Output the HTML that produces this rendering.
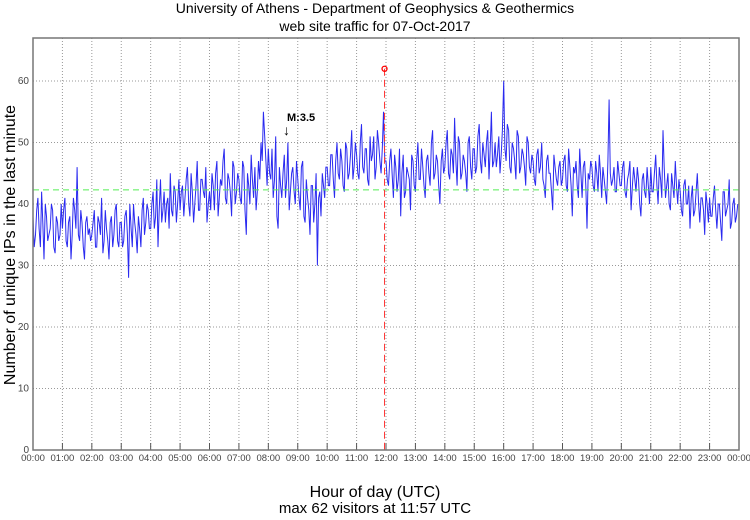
<!DOCTYPE html>
<html><head><meta charset="utf-8"><style>
body{margin:0;background:#fff;}
svg text{font-family:"Liberation Sans",sans-serif;}
</style></head><body>
<svg id="chart" width="750" height="515" xmlns="http://www.w3.org/2000/svg">
<text x="375" y="13" text-anchor="middle" font-size="14">University of Athens - Department of Geophysics &amp; Geothermics</text>
<text x="375" y="31" text-anchor="middle" font-size="14">web site traffic for 07-Oct-2017</text>
<text transform="translate(15,245) rotate(-90)" text-anchor="middle" font-size="16">Number of unique IPs in the last minute</text>
<text x="375" y="497" text-anchor="middle" font-size="16">Hour of day (UTC)</text>
<text x="375" y="513" text-anchor="middle" font-size="15">max 62 visitors at 11:57 UTC</text>
<g id="grid"></g><g id="series"></g><g id="overlay"></g>
<rect x="33" y="38" width="706" height="412" fill="none" stroke="#777" stroke-width="1.5"/>
<text x="287" y="121" font-size="11" font-weight="bold">M:3.5</text>
<text x="283" y="135" font-size="14">↓</text>
</svg>
<script>
const yTicks=[0,10,20,30,40,50,60];
const xTickLabels=["00:00","01:00","02:00","03:00","04:00","05:00","06:00","07:00","08:00","09:00","10:00","11:00","12:00","13:00","14:00","15:00","16:00","17:00","18:00","19:00","20:00","21:00","22:00","23:00","00:00"];
const visitors=[
38,35,41,33,37,40,34,36,39,32,37,35,
36,41,33,38,35,39,46,34,37,31,38,36,
35,39,33,37,41,34,36,31,38,35,40,33,
37,34,39,28,36,40,35,38,33,41,37,39,
36,42,38,33,44,39,37,41,45,38,42,40,
39,43,41,46,38,42,40,47,39,44,41,37,
42,45,39,47,41,43,49,40,44,38,46,42,
44,40,46,35,43,48,41,39,47,50,55,47,
49,44,41,51,36,43,45,41,50,42,46,40,
44,39,47,37,41,35,43,40,30,42,45,41,
46,43,48,41,50,44,47,42,49,45,52,46,
48,44,53,45,49,43,47,51,46,50,45,55,
47,43,49,41,46,44,38,48,42,45,39,47,
42,50,44,46,41,48,43,52,45,47,40,49,
46,52,44,48,54,43,50,45,47,42,51,44,
49,46,53,45,48,50,44,55,47,46,51,48,
60,47,52,45,49,44,51,46,48,43,50,45,
47,43,49,46,44,41,48,45,39,46,43,47,
44,48,42,46,38,45,43,49,41,47,36,44,
46,42,45,48,41,44,40,57,43,46,42,45,
43,47,41,45,39,46,42,44,38,45,41,43,
46,42,48,40,44,52,41,45,39,43,47,40,
42,38,44,40,36,43,39,45,37,41,35,40,
41,38,43,36,40,34,42,39,44,37,41,38];
const visitorsAlt=[
33,39,36,42,31,38,35,40,33,38,34,40,
39,34,37,31,41,36,35,39,33,37,35,34,
37,33,38,35,32,39,34,37,33,39,34,37,
33,38,35,40,33,37,32,36,39,35,40,36,
40,36,44,39,37,42,40,36,39,43,37,44,
42,38,44,40,45,37,43,39,44,42,46,40,
39,43,45,38,44,47,41,45,42,47,40,45,
41,47,39,45,40,44,46,42,44,47,51,43,
45,49,44,38,46,41,48,44,39,45,42,47,
41,46,38,44,39,43,37,45,41,38,43,46,
43,48,44,47,45,49,43,50,44,48,44,50,
45,50,46,49,44,51,48,44,52,47,49,47,
44,47,45,48,42,49,45,41,46,44,48,43,
47,44,49,43,47,45,50,44,48,43,47,45,
50,45,49,45,47,51,44,48,45,50,46,49,
45,51,47,50,46,52,49,46,50,48,45,52,
49,53,46,50,47,52,45,49,46,51,46,48,
44,48,45,50,43,47,45,42,48,44,46,43,
47,43,49,43,46,47,41,45,46,43,45,47,
43,47,42,45,46,42,47,45,44,42,47,43,
46,42,44,47,43,44,46,40,44,42,46,40,
42,45,43,46,41,46,43,40,45,41,43,44,
39,43,40,43,41,38,42,40,41,39,42,37,
38,41,39,40,37,42,38,40,36,40,37,40];
const stepMinutes=[5];
const meanValue=[42.3];
const maxPoint=[11*60+57,62];
const yMax=67,X0=33,X1=739,Y0=450,Y1=38;
const NS="http://www.w3.org/2000/svg";
const xs=m=>X0+(X1-X0)*m/1440;
const ys=v=>Y0-(Y0-Y1)*v/yMax;
function mk(t,a,p){const e=document.createElementNS(NS,t);for(const k in a)e.setAttribute(k,a[k]);p.appendChild(e);return e;}
const grid=document.getElementById('grid');
yTicks.forEach(v=>{
 const y=ys(v);
 if(v>0){const l=mk('line',{x1:X0,x2:X1,y1:y,y2:y,stroke:'#999','stroke-dasharray':'1,2'},grid);
 
 }
 const t=mk('text',{x:X0-4,y:y+3,'text-anchor':'end','font-size':10,fill:'#444'},grid);
 t.textContent=v;
 
 
});
xTickLabels.forEach((s,i)=>{
 const x=xs(i*60);
 if(i>0&&i<24){const l=mk('line',{x1:x,x2:x,y1:Y1,y2:Y0,stroke:'#999','stroke-dasharray':'1,2'},grid);
 
 
 mk('line',{x1:x,x2:x,y1:Y0,y2:Y0-7,stroke:'#555'},grid);}
 const t=mk('text',{x:x,y:Y0+11,'text-anchor':'middle','font-size':9.5,fill:'#444'},grid);
 t.textContent=s;
 
 
});
const ser=document.getElementById('series');
const st=stepMinutes[0];
const coords=[];
visitors.forEach((v,i)=>{
 coords.push(xs(i*st).toFixed(1)+','+ys(v).toFixed(1));
 coords.push(xs(i*st+st/2).toFixed(1)+','+ys(visitorsAlt[i]).toFixed(1));
});
const pl=mk('polyline',{points:coords.join(' '),fill:'none',stroke:'#2a2af0','stroke-width':1},ser);


const ov=document.getElementById('overlay');
const ml=mk('line',{x1:X0,x2:X1,y1:ys(meanValue[0]),y2:ys(meanValue[0]),stroke:'#5e5','stroke-dasharray':'6,4'},ov);


const mx=xs(maxPoint[0]);
const vl=mk('line',{x1:mx,x2:mx,y1:ys(maxPoint[1]),y2:Y0,stroke:'#f33','stroke-dasharray':'7,4'},ov);


const mc=mk('circle',{cx:mx,cy:ys(maxPoint[1]),r:2.5,fill:'none',stroke:'#f00','stroke-width':1.3},ov);


</script>
</body></html>
